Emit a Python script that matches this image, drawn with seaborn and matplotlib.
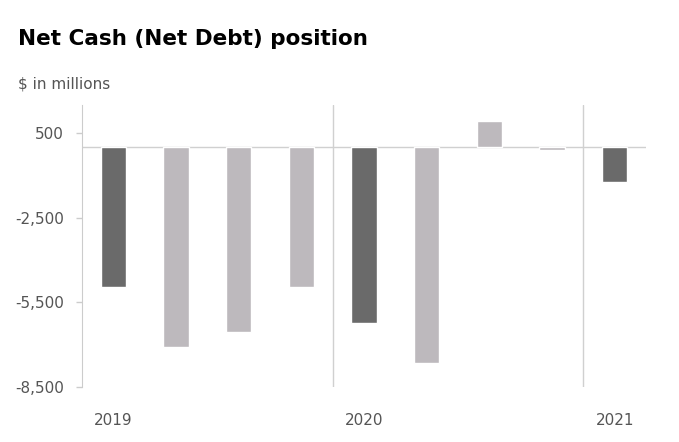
import matplotlib
matplotlib.use("Agg")
import matplotlib.pyplot as plt
import pandas as pd
import seaborn as sns

# DATA ($ in millions, quarterly)
quarters = ["Q1 2019", "Q2 2019", "Q3 2019", "Q4 2019",
            "Q1 2020", "Q2 2020", "Q3 2020", "Q4 2020",
            "Q1 2021"]
net_cash = [-4950, -7100, -6550, -4950, -6230, -7650, 920, -100, -1240]
years = ["2019", "2020", "2021"]
year_first_quarter = ["Q1 2019", "Q1 2020", "Q1 2021"]
y_ticks = [500, -2500, -5500, -8500]

sns.set_style("white")
plt.rcParams['font.family'] = ['DejaVu Sans']

df = pd.DataFrame({'quarter': quarters, 'value': net_cash})
df['kind'] = ['first' if q.startswith('Q1') else 'other' for q in quarters]

fig = plt.figure(figsize=(6.79, 4.42), dpi=100)
ax = fig.add_axes([0.1208, 0.1244, 0.8306, 0.6387])

sns.barplot(data=df, x='quarter', y='value', hue='kind', order=quarters,
            palette={'first': '#6a6a6a', 'other': '#bdb9bd'},
            width=0.4, dodge=False, legend=False, ax=ax, saturation=1)

ax.set_xlim(-0.5, len(quarters) - 0.5)
ax.set_ylim(-8500, 1500)
ax.axhline(0, color='#d0d0d0', linewidth=1, zorder=0)

# YEAR SEPARATORS
for i, q in enumerate(quarters):
    if q.startswith('Q1') and i > 0:
        ax.axvline(i - 0.5, color='#d0d0d0', linewidth=1, zorder=0)

ax.set_yticks(y_ticks)
ax.set_yticklabels(['{:,}'.format(v) for v in y_ticks])
ax.set_xticks([quarters.index(q) for q in year_first_quarter])
ax.set_xticklabels(years)
ax.tick_params(axis='y', colors='#cccccc', labelcolor='#555555', labelsize=11,
               length=4, width=1, left=True, pad=9)
ax.tick_params(axis='x', labelcolor='#555555', labelsize=11, length=0, pad=19)
ax.set_xlabel('')
ax.set_ylabel('')

for side in ['top', 'right', 'bottom']:
    ax.spines[side].set_visible(False)
ax.spines['left'].set_color('#cccccc')

fig.text(0.0265, 0.898, 'Net Cash (Net Debt) position', fontsize=15.5,
         fontweight='bold', color='black', va='baseline')
fig.text(0.0265, 0.80, r'\$ in millions', fontsize=11, color='#555555',
         va='baseline')

fig.savefig('out.png', dpi=100)
